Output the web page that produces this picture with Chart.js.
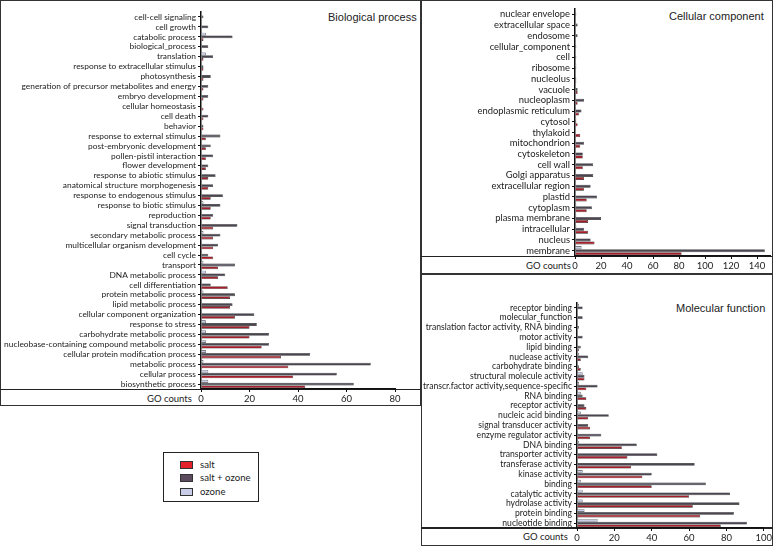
<!DOCTYPE html>
<html>
<head>
<meta charset="utf-8">
<script src="https://cdn.jsdelivr.net/npm/chart.js@4.4.1/dist/chart.umd.min.js"></script>
<style>
  body { margin: 0; background: #fff; width: 779px; height: 546px; position: relative; overflow: hidden; font-family: Lato, sans-serif; }
  .box { position: absolute; border: 1.5px solid #333; box-sizing: border-box; }
  .hline { position: absolute; height: 1.5px; background: #222; }
  .title { position: absolute; font-family: "Liberation Sans", Arial, sans-serif; font-size: 11px; color: #222; white-space: nowrap; }
  .go { position: absolute; font-size: 9.5px; color: #222; white-space: nowrap; }
  canvas { position: absolute; }
  #legend { position: absolute; left: 163px; top: 452px; width: 96px; height: 50px; border: 1.5px solid #222; box-sizing: border-box; }
  .item { position: absolute; left: 16px; font-size: 9.6px; color: #222; white-space: nowrap; line-height: 10px; }
  .item span { display: inline-block; width: 13px; height: 8px; border: 1px solid #333; box-sizing: border-box; vertical-align: -1px; margin-right: 7px; }
</style>
</head>
<body>
<div class="box" style="left:0;top:0;width:421px;height:406px"></div>
<div class="box" style="left:421px;top:0;width:352px;height:275px"></div>
<div class="box" style="left:421px;top:273px;width:352px;height:273px"></div>
<div class="hline" style="left:0;top:388.5px;width:421px"></div>
<div class="hline" style="left:421px;top:255.5px;width:352px"></div>
<div class="hline" style="left:421px;top:527px;width:352px"></div>

<div class="title" style="left:328px;top:11px">Biological process</div>
<div class="title" style="left:669px;top:10px">Cellular component</div>
<div class="title" style="left:676px;top:302px">Molecular function</div>

<div class="go" style="left:147px;top:393px">GO counts</div>
<div class="go" style="left:526px;top:260px">GO counts</div>
<div class="go" style="left:523px;top:531px">GO counts</div>

<canvas id="bp" width="421" height="406" style="left:0;top:0"></canvas>
<canvas id="cc" width="351" height="274" style="left:422px;top:0"></canvas>
<canvas id="mf" width="351" height="272" style="left:422px;top:274px"></canvas>

<div id="legend">
  <div class="item" style="top:7px"><span style="background:#e4202a"></span>salt</div>
  <div class="item" style="top:20px"><span style="background:#5c4b5e"></span>salt + ozone</div>
  <div class="item" style="top:34px"><span style="background:#c9cde8"></span>ozone</div>
</div>

<script>
const colors = {
    salt: "#a51f2b",
    saltOzone: "#4a4550",
    ozone: "#c9cde8",
    edge: "#2a2a2a"
};

// Biological process (top to bottom)
const bpLabels = ["cell-cell signaling", "cell growth", "catabolic process", "biological_process", "translation",
    "response to extracellular stimulus", "photosynthesis", "generation of precursor metabolites and energy",
    "embryo development", "cellular homeostasis", "cell death", "behavior", "response to external stimulus",
    "post-embryonic development", "pollen-pistil interaction", "flower development", "response to abiotic stimulus",
    "anatomical structure morphogenesis", "response to endogenous stimulus", "response to biotic stimulus",
    "reproduction", "signal transduction", "secondary metabolic process", "multicellular organism development",
    "cell cycle", "transport", "DNA metabolic process", "cell differentiation", "protein metabolic process",
    "lipid metabolic process", "cellular component organization", "response to stress",
    "carbohydrate metabolic process", "nucleobase-containing compound metabolic process",
    "cellular protein modification process", "metabolic process", "cellular process", "biosynthetic process"];
const bpSalt =      [0, 0, 1, 0, 1, 1, 1, 1, 1, 1, 1, 1, 2, 2, 2, 2, 3, 3, 4, 4, 4, 5, 5, 5, 5, 7, 7, 11, 12, 12, 14, 20, 20, 25, 33, 36, 38, 43];
const bpSaltOzone = [1, 3, 13, 3, 5, 1, 4, 3, 3, 0, 3, 1, 8, 4, 5, 3, 6, 5, 9, 8, 5, 15, 8, 7, 3, 14, 10, 4, 14, 13, 22, 23, 28, 28, 45, 70, 56, 63];
const bpOzone =     [0, 0, 2, 0, 2, 0, 0, 0, 0, 0, 0, 0, 0, 0, 0, 0, 0, 0, 0, 1, 0, 0, 1, 0, 0, 1, 2, 0, 1, 0, 0, 2, 2, 2, 2, 1, 3, 3];
const bpTicks = [0, 20, 40, 60, 80];

// Cellular component
const ccLabels = ["nuclear envelope", "extracellular space", "endosome", "cellular_component", "cell", "ribosome",
    "nucleolus", "vacuole", "nucleoplasm", "endoplasmic reticulum", "cytosol", "thylakoid", "mitochondrion",
    "cytoskeleton", "cell wall", "Golgi apparatus", "extracellular region", "plastid", "cytoplasm",
    "plasma membrane", "intracellular", "nucleus", "membrane"];
const ccSalt =      [0, 0, 0, 0, 0, 0, 1, 2, 2, 3, 2, 4, 4, 6, 6, 7, 7, 9, 9, 10, 10, 15, 82];
const ccSaltOzone = [1, 2, 2, 1, 1, 1, 1, 2, 7, 5, 1, 0, 7, 6, 14, 14, 12, 17, 13, 20, 7, 12, 146];
const ccOzone =     [0, 0, 0, 0, 0, 1, 0, 0, 0, 0, 1, 0, 0, 0, 0, 0, 0, 0, 1, 1, 1, 0, 5];
const ccTicks = [0, 20, 40, 60, 80, 100, 120, 140];

// Molecular function
const mfLabels = ["receptor binding", "molecular_function", "translation factor activity, RNA binding",
    "motor activity", "lipid binding", "nuclease activity", "carbohydrate binding", "structural molecule activity",
    "transcr.factor activity,sequence-specific", "RNA binding", "receptor activity", "nucleic acid binding",
    "signal transducer activity", "enzyme regulator activity", "DNA binding", "transporter activity",
    "transferase activity", "kinase activity", "binding", "catalytic activity", "hydrolase activity",
    "protein binding", "nucleotide binding"];
const mfSalt =      [0, 0, 0, 0, 1, 2, 2, 4, 5, 5, 5, 6, 7, 7, 24, 27, 29, 35, 40, 60, 62, 66, 77];
const mfSaltOzone = [3, 3, 1, 3, 2, 6, 1, 4, 11, 3, 4, 17, 6, 13, 32, 43, 63, 40, 69, 82, 87, 84, 91];
const mfOzone =     [1, 0, 0, 0, 0, 1, 0, 3, 1, 2, 0, 2, 0, 0, 1, 0, 0, 3, 2, 3, 3, 4, 11];
const mfTicks = [0, 20, 40, 60, 80, 100];

function makePanel(id, labels, salt, saltOzone, ozone, ticks, max, geo) {
    const bar = (label, data, color) => ({
        label: label,
        data: data,
        backgroundColor: color,
        borderColor: colors.edge,
        borderWidth: 0.6,
        categoryPercentage: 0.84,
        barPercentage: 1
    });
    return new Chart(document.getElementById(id), {
        type: "bar",
        data: {
            labels: labels,
            // first dataset sits at the top of each row
            datasets: [
                bar("ozone", ozone, colors.ozone),
                bar("salt + ozone", saltOzone, colors.saltOzone),
                bar("salt", salt, colors.salt)
            ]
        },
        options: {
            indexAxis: "y",
            responsive: false,
            animation: false,
            layout: {
                padding: { top: geo.top, right: geo.right, left: 0, bottom: 0 }
            },
            plugins: {
                legend: { display: false },
                tooltip: { enabled: false }
            },
            scales: {
                y: {
                    afterFit: s => { s.width = geo.yWidth; },
                    border: { display: true, color: "#111", width: 1.5 },
                    grid: { display: true, offset: false, drawOnChartArea: false, drawTicks: true, tickLength: 3, color: "#111" },
                    ticks: { autoSkip: false, padding: 2, color: "#222", font: { family: "Lato", size: geo.font } }
                },
                x: {
                    min: 0,
                    max: max,
                    afterBuildTicks: s => { s.ticks = ticks.map(v => ({ value: v })); },
                    afterFit: s => { s.height = geo.xHeight; },
                    border: { display: true, color: "#111", width: 1.5 },
                    grid: { drawOnChartArea: false, drawTicks: true, tickLength: 3, color: "#111" },
                    ticks: { autoSkip: false, maxRotation: 0, padding: 1, color: "#222", font: { family: "Lato", size: 9.5 } }
                }
            }
        }
    });
}

makePanel("bp", bpLabels, bpSalt, bpSaltOzone, bpOzone, bpTicks, 80,
    { top: 12, right: 26, yWidth: 201, xHeight: 17, font: 8.4 });
makePanel("cc", ccLabels, ccSalt, ccSaltOzone, ccOzone, ccTicks, 150,
    { top: 9, right: 3, yWidth: 153, xHeight: 18, font: 9.4 });
makePanel("mf", mfLabels, mfSalt, mfSaltOzone, mfOzone, mfTicks, 100,
    { top: 29, right: 2, yWidth: 155, xHeight: 18, font: 8.6 });
</script>
</body>
</html>
